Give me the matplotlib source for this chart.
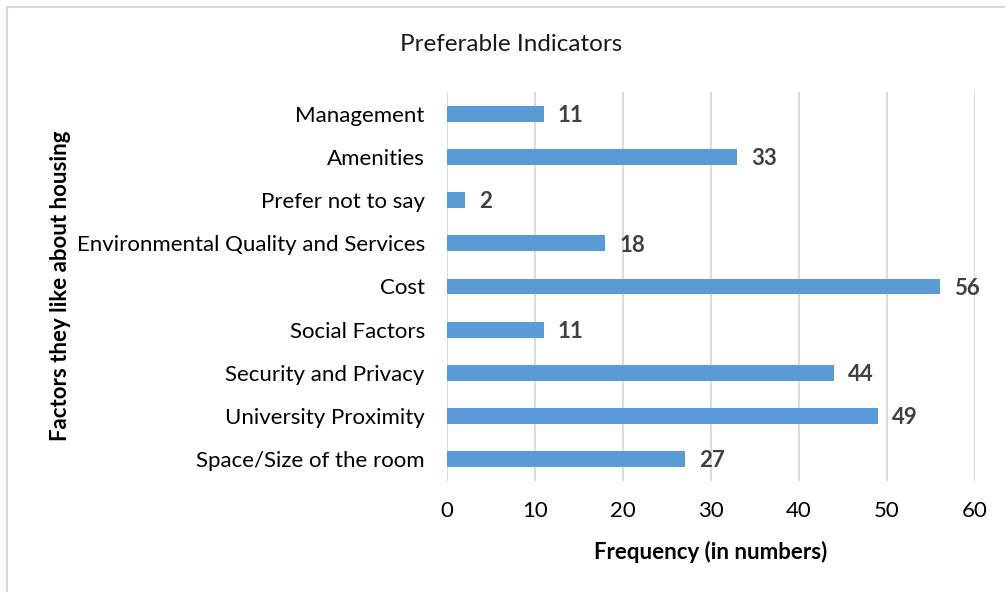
import numpy as np
import matplotlib.pyplot as plt
from matplotlib.patches import Rectangle

# Data (top to bottom)
factors = ['Management', 'Amenities', 'Prefer not to say',
           'Environmental Quality and Services', 'Cost', 'Social Factors',
           'Security and Privacy', 'University Proximity', 'Space/Size of the room']
counts = [11, 33, 2, 18, 56, 11, 44, 49, 27]

plt.rcParams['font.family'] = ['Lato', 'DejaVu Sans']

fig = plt.figure(figsize=(10.05, 5.92), dpi=100)
ax = fig.add_axes([0.4448, 0.1883, 0.5253, 0.6555])

y = np.arange(len(factors))[::-1]
ax.barh(y, counts, height=0.37, color='#5B9BD5', zorder=3)

for yi, c in zip(y, counts):
    ax.text(c + 1.6, yi - 0.04, str(c), va='center', ha='left', fontsize=16,
            fontweight='bold', color='#404040')

ax.set_xlim(0, 60)
ax.set_ylim(-0.5, len(factors) - 0.5)
ax.set_xticks(range(0, 61, 10))
ax.set_yticks(y)
ax.set_yticklabels(factors)
ax.tick_params(axis='both', length=0, labelsize=16, colors='#000000')
ax.tick_params(axis='x', pad=15)
ax.tick_params(axis='y', pad=16)
ax.grid(axis='x', color='#D9D9D9', linewidth=1.3, zorder=0)
for s in ax.spines.values():
    s.set_visible(False)

ax.set_xlabel('Frequency (in numbers)', fontsize=16, fontweight='bold', labelpad=14)
fig.text(0.06, 0.517, 'Factors they like about housing', rotation=90,
         ha='center', va='center', fontsize=16, fontweight='bold')
fig.text(0.509, 0.925, 'Preferable Indicators', ha='center', va='center',
         fontsize=17.5, color='#1a1a1a')

# outer chart border
fig.patches.append(Rectangle((7 / 1005, -0.1), 1.2, 1 - 7 / 592 + 0.1,
                             transform=fig.transFigure, fill=False,
                             edgecolor='#D9D9D9', linewidth=1.5))

fig.savefig('out.png', dpi=100)
